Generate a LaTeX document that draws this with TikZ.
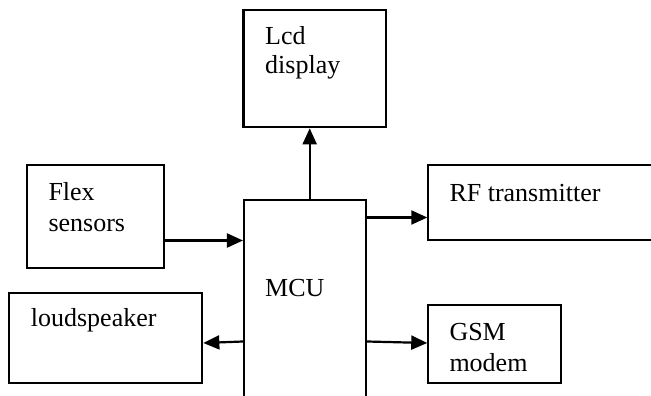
\documentclass[tikz,border=0pt]{standalone}
\usepackage{fontspec}
\setmainfont{Liberation Serif}
\usetikzlibrary{arrows.meta}
\tikzset{
  blk/.style={draw=black, line width=2.1pt, fill=none, inner sep=0pt},
  lbl/.style={anchor=base west, inner sep=0pt, font=\fontsize{26}{31}\selectfont},
  arr/.style={line width=2.2pt, -{Triangle[length=16pt,width=14pt]}}
}
\begin{document}
\begin{tikzpicture}[x=1pt,y=-1pt]
\clip (0,0) rectangle (651,396);
\fill[white] (0,0) rectangle (651,396);
% boxes
\node[blk, minimum width=142.5pt, minimum height=117.3pt] (lcd) at (314.75,68.65) {};
\node[blk, minimum width=136.7pt, minimum height=103.3pt] (flex) at (95.7,216.7) {};
\node[blk, minimum width=122pt, minimum height=220pt] (mcu) at (305,310) {};
\node[blk, minimum width=231.7pt, minimum height=75pt] (rf) at (544.2,202.5) {};
\node[blk, minimum width=193pt, minimum height=90.6pt] (spk) at (105.8,338) {};
\node[blk, minimum width=132.4pt, minimum height=78.3pt] (gsm) at (494.5,344.2) {};
% labels
\node[lbl] (lcdA) at (265,44.3) {Lcd};
\node[lbl] (lcdB) at (265,74) {display};
\node[lbl] (flexA) at (48.3,200) {Flex};
\node[lbl] (flexB) at (48.3,231.7) {sensors};
\node[lbl] (mcuT) at (265,296.7) {MCU};
\node[lbl] (rfT) at (449.3,201.7) {RF transmitter};
\node[lbl] (spkT) at (30.7,326.7) {loudspeaker};
\node[lbl] (gsmA) at (449.3,340) {GSM};
\node[lbl] (gsmB) at (449.3,371) {modem};
% helper coordinates for connector levels
\coordinate (yflex) at (0,240.5);
\coordinate (yrf) at (0,217.5);
\coordinate (yspkA) at (0,341.5);
\coordinate (yspkB) at (0,343);
\coordinate (ygsmA) at (0,341.5);
\coordinate (ygsmB) at (0,343);
% connectors
\draw[arr] ([xshift=4.7pt]mcu.north) -- ([xshift=-5.05pt]lcd.south);
\draw[arr] (flex.east |- yflex) -- (mcu.west |- yflex);
\draw[arr] (mcu.east |- yrf) -- (rf.west |- yrf);
\draw[arr] (mcu.west |- yspkA) -- (spk.east |- yspkB);
\draw[arr] (mcu.east |- ygsmA) -- (gsm.west |- ygsmB);
\end{tikzpicture}
\end{document}
